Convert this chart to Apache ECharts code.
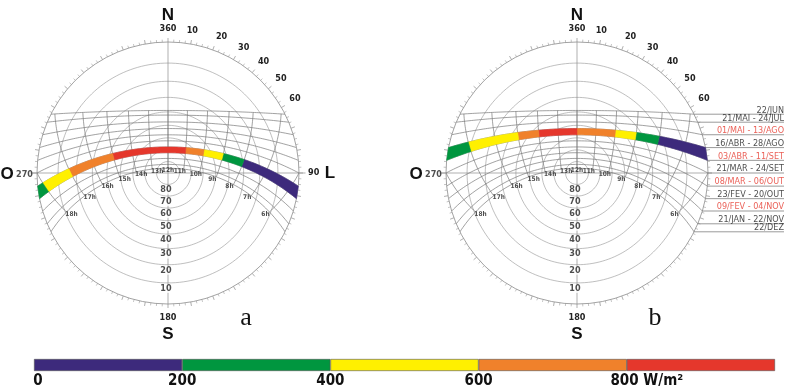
<!DOCTYPE html>
<html lang="pt">
<head>
<meta charset="UTF-8">
<title>Carta solar</title>
<script src="https://cdn.jsdelivr.net/npm/echarts@6/dist/echarts.min.js"></script>
<style>
    html, body { margin: 0; padding: 0; background: #fff; }
    #main { width: 785px; height: 389px; }
</style>
</head>
<body>
<div id="main"></div>
<script>
    // site latitude (southern Brazil)
    const latitude = -27.6;

    // date curves: declination, label, label in red
    const dateDecl = [23.44, 20.1, 15.0, 9.9, 4.9, 0, -5.1, -10.0, -14.9, -20.1, -23.44];
    const dateNames = ['22/JUN', '21/MAI - 24/JUL', '01/MAI - 13/AGO', '16/ABR - 28/AGO', '03/ABR - 11/SET',
        '21/MAR - 24/SET', '08/MAR - 06/OUT', '23/FEV - 20/OUT', '09/FEV - 04/NOV', '21/JAN - 22/NOV', '22/DEZ'];
    const dateRed = [false, false, true, false, true, false, true, false, true, false, false];

    const hourLines = [6, 7, 8, 9, 10, 11, 12, 13, 14, 15, 16, 17, 18];
    const altCircles = [10, 20, 30, 40, 50, 60, 70, 80];
    const azLabelsA = [0, 10, 20, 30, 40, 50, 60, 90, 180];
    const azLabelsB = [0, 10, 20, 30, 40, 50, 60, 180];

    // irradiance classes (W/m2)
    const irrBreaks = [0, 200, 400, 600, 800, 1000];
    const irrColors = ['#3d2a7c', '#00963f', '#fff000', '#f0812b', '#e5372c'];

    // band a: between 23/FEV and 08/MAR curves, hour limits and class of each stretch
    const bandADecl = [-10.0, -5.1];
    const bandAHours = [8, 9, 10, 11, 15, 17, 18];
    const bandAClass = [0, 1, 2, 3, 4, 3, 2, 1];
    // band b: between 03/ABR and 16/ABR curves
    const bandBDecl = [4.9, 9.9];
    const bandBHours = [8, 9, 10, 12, 14, 15, 17];
    const bandBClass = [0, 1, 2, 3, 4, 3, 2, 1];

    const FONT = "'Liberation Sans Narrow', 'DejaVu Sans Condensed', 'Liberation Sans', sans-serif";
    const centerA = [168, 173], centerB = [577, 173], R = 131;
    const labelRight = 784;
    const rad = Math.PI / 180;

    function sunPos(decl, hourAngle) {
        const f = latitude * rad, d = decl * rad, h = hourAngle * rad;
        const sinAlt = Math.sin(f) * Math.sin(d) + Math.cos(f) * Math.cos(d) * Math.cos(h);
        const alt = Math.asin(sinAlt);
        let c = (Math.sin(d) - sinAlt * Math.sin(f)) / (Math.cos(alt) * Math.cos(f));
        c = Math.max(-1, Math.min(1, c));
        let az = Math.acos(c) / rad;
        if (hourAngle > 0) az = 360 - az;
        return [alt / rad, az];
    }
    // stereographic: radius 1 = horizon
    function proj(alt, az) { return [Math.tan((90 - alt) / 2 * rad), az]; }
    function halfDay(decl) {
        const x = -Math.tan(latitude * rad) * Math.tan(decl * rad);
        return Math.acos(Math.max(-1, Math.min(1, x))) / rad;
    }
    function dayCurve(decl, h1, h2) {
        const H0 = halfDay(decl) / 15;
        const a = Math.max(h1, 12 - H0), b = Math.min(h2, 12 + H0);
        const n = Math.max(2, Math.ceil((b - a) * 12));
        const pts = [];
        for (let i = 0; i <= n; i++) {
            const h = a + (b - a) * i / n;
            const p = sunPos(decl, (h - 12) * 15);
            pts.push(proj(Math.max(p[0], 0), p[1]));
        }
        return pts;
    }
    function hourCurve(h) {
        const H = (h - 12) * 15, n = 96;
        const dMin = dateDecl[dateDecl.length - 1], dMax = dateDecl[0];
        const pts = [];
        let prevUp = null;
        for (let i = 0; i <= n; i++) {
            const d = dMin + (dMax - dMin) * i / n;
            const p = sunPos(d, H);
            const up = p[0] >= 0;
            if (prevUp !== null && prevUp !== up) {
                const d0 = Math.atan(-Math.cos(latitude * rad) * Math.cos(H * rad) / Math.sin(latitude * rad)) / rad;
                pts.push(proj(0, sunPos(d0, H)[1]));
            }
            if (up) pts.push(proj(p[0], p[1]));
            prevUp = up;
        }
        return pts;
    }

    function curve(pi, pts, color, width, z) {
        return {
            type: 'line', coordinateSystem: 'polar', polarIndex: pi, data: pts,
            symbol: 'none', silent: true, animation: false, clip: false, z: z,
            lineStyle: { color: color, width: width }
        };
    }

    function bandSeries(pi, decl, bounds, classes) {
        const edges = [0].concat(bounds, [24]);
        const segs = classes.map((c, i) => [edges[i], edges[i + 1], c]);
        return {
            type: 'custom', coordinateSystem: 'polar', polarIndex: pi, z: 6, silent: true, animation: false,
            data: segs.map(() => [0, 0]),
            renderItem: function (params, api) {
                const s = segs[params.dataIndex];
                const lo = dayCurve(decl[0], s[0], s[1]).map(p => api.coord(p));
                const hi = dayCurve(decl[1], s[0], s[1]).map(p => api.coord(p)).reverse();
                const col = irrColors[s[2]];
                return { type: 'polygon', shape: { points: lo.concat(hi) }, style: { fill: col, stroke: col, lineWidth: 0.5 } };
            }
        };
    }

    function diagramSeries(pi) {
        const out = [];
        const greyLight = '#a3a3a3', greyDark = '#7a7a7a';
        // altitude circles
        altCircles.forEach(a => {
            const pts = [];
            for (let t = 0; t <= 360; t += 2) pts.push(proj(a, t));
            out.push(curve(pi, pts, greyLight, 0.7, 2));
        });
        // cardinal lines
        out.push(curve(pi, [[1, 0], [0, 0], [1, 180]], '#8c8c8c', 0.7, 2));
        out.push(curve(pi, [[1, 270], [0, 0], [1, 90]], '#8c8c8c', 0.7, 2));
        // date curves and hour curves
        dateDecl.forEach(d => out.push(curve(pi, dayCurve(d, 0, 24), greyDark, 0.7, 3)));
        hourLines.forEach(h => out.push(curve(pi, hourCurve(h), greyDark, 0.7, 3)));
        // altitude labels on the south meridian
        out.push({
            type: 'scatter', coordinateSystem: 'polar', polarIndex: pi, symbolSize: 0, silent: true, animation: false, clip: false, z: 8,
            data: altCircles.map(a => ({ value: proj(a, 180), name: String(a) })),
            label: {
                show: true, position: 'bottom', distance: 1, offset: [-2, 0], formatter: '{b}',
                fontSize: 9, fontWeight: 'bold', fontFamily: FONT, color: '#222',
                backgroundColor: '#fff', padding: [0, 1]
            }
        });
        // west label just outside the horizon
        out.push({
            type: 'scatter', coordinateSystem: 'polar', polarIndex: pi, symbolSize: 0, silent: true, animation: false, clip: false, z: 8,
            data: [{ value: [1, 270], name: '270' }],
            label: {
                show: true, position: 'left', distance: 4, offset: [0, 2], formatter: '{b}',
                fontSize: 9, fontWeight: 'bold', fontFamily: FONT, color: '#222'
            }
        });
        // hour labels at the 22/DEZ curve
        const dMin = dateDecl[dateDecl.length - 1];
        out.push({
            type: 'scatter', coordinateSystem: 'polar', polarIndex: pi, symbolSize: 0, silent: true, animation: false, clip: false, z: 8,
            data: hourLines.map(h => {
                const p = sunPos(dMin, (h - 12) * 15);
                return {
                    value: proj(p[0], p[1]), name: h + 'h',
                    label: { offset: [h > 12 ? 5 : (h < 12 ? -4 : 0), 2] }
                };
            }),
            label: {
                show: true, position: 'inside', formatter: '{b}',
                fontSize: 6.5, fontWeight: 'bold', fontFamily: FONT, color: '#222'
            }
        });
        return out;
    }

    // straight segments drawn outside the horizon (line series get cut at the rim)
    function segmentSeries(pi, segs, color) {
        return {
            type: 'custom', coordinateSystem: 'polar', polarIndex: pi, z: 3, silent: true, animation: false,
            data: segs.map(() => [0, 0]),
            renderItem: function (params, api) {
                const s = segs[params.dataIndex];
                const p1 = api.coord(s[0]), p2 = api.coord(s[1]);
                return {
                    type: 'line', shape: { x1: p1[0], y1: p1[1], x2: p2[0], y2: p2[1] },
                    style: { stroke: color, lineWidth: 0.7 }
                };
            }
        };
    }

    function angleAxisFor(pi, shown) {
        return {
            polarIndex: pi, type: 'value', min: 0, max: 360, interval: 10, startAngle: 90, clockwise: true,
            axisLine: { show: true, lineStyle: { color: '#8c8c8c', width: 0.8 } },
            axisTick: { show: true, inside: false, length: 4, lineStyle: { color: '#8c8c8c', width: 0.7 } },
            minorTick: { show: true, splitNumber: 4, length: 2.5, lineStyle: { color: '#9a9a9a', width: 0.6 } },
            splitLine: { show: false },
            axisLabel: {
                margin: 9, fontSize: 9, fontWeight: 'bold', fontFamily: FONT, color: '#222',
                formatter: v => shown.indexOf(v) >= 0 ? (v === 0 ? '360' : String(v)) : ''
            }
        };
    }
    function radiusAxisFor(pi) {
        return {
            polarIndex: pi, type: 'value', min: 0, max: 1,
            axisLine: { show: false }, axisTick: { show: false }, axisLabel: { show: false }, splitLine: { show: false }
        };
    }

    let series = [];
    series = series.concat(diagramSeries(0), diagramSeries(1));
    series.push(bandSeries(0, bandADecl, bandAHours, bandAClass));
    series.push(bandSeries(1, bandBDecl, bandBHours, bandBClass));

    // east-west line running a little past the rim
    series.push(segmentSeries(0, [[[1, 270], [1.05, 270]], [[1, 90], [1.05, 90]]], '#8c8c8c'));
    series.push(segmentSeries(1, [[[1, 270], [1.05, 270]]], '#8c8c8c'));

    // leader lines and date labels for diagram b
    const reach = (labelRight - centerB[0]) / R;
    const leaders = [];
    const leaderEnds = [];
    dateDecl.forEach((d, i) => {
        const az = sunPos(d, -halfDay(d))[1];
        const y = Math.cos(az * rad);
        const end = [Math.hypot(reach, y), Math.atan2(reach, y) / rad];
        leaders.push([[1, az], end]);
        leaderEnds.push({
            value: end, name: dateNames[i],
            label: { color: dateRed[i] ? '#e5372c' : '#1a1a1a' }
        });
    });
    series.push(segmentSeries(1, leaders, '#6e6e6e'));
    series.push({
        type: 'scatter', coordinateSystem: 'polar', polarIndex: 1, symbolSize: 0, silent: true, animation: false, clip: false, z: 8,
        data: leaderEnds,
        label: { show: true, position: 'left', distance: 0, offset: [0, -4], formatter: '{b}', fontSize: 9, fontFamily: FONT }
    });

    // colour scale
    irrColors.forEach((c, i) => {
        series.push({
            type: 'bar', stack: 'irr', xAxisIndex: 0, yAxisIndex: 0, barWidth: '100%', silent: true, animation: false,
            data: [irrBreaks[i + 1] - irrBreaks[i]],
            itemStyle: { color: c, borderColor: '#555', borderWidth: 0.6 }
        });
    });

    const big = 'bold 17px "Liberation Sans", Arial, sans-serif';
    const serif = '26px "Liberation Serif", "DejaVu Serif", serif';
    function letter(text, x, y, font) {
        return { type: 'text', x: x, y: y, style: { text: text, font: font, align: 'center', verticalAlign: 'middle', fill: '#111' } };
    }

    const chart = echarts.init(document.getElementById('main'));
    const option = {
        backgroundColor: '#fff',
        animation: false,
        textStyle: { fontFamily: FONT },
        polar: [
            { center: centerA, radius: R },
            { center: centerB, radius: R }
        ],
        angleAxis: [angleAxisFor(0, azLabelsA), angleAxisFor(1, azLabelsB)],
        radiusAxis: [radiusAxisFor(0), radiusAxisFor(1)],
        grid: { left: 34, right: 10, top: 359, height: 13 },
        xAxis: {
            type: 'value', min: 0, max: 1000, interval: 200,
            axisLine: { show: false }, axisTick: { show: false }, splitLine: { show: false },
            axisLabel: {
                margin: 3, fontSize: 15, fontWeight: 'bold', color: '#111', fontFamily: FONT,
                formatter: v => v === 800 ? '{g|}800 W/m²' : (v === 1000 ? '' : (v === 0 ? '{h|}0' : String(v))),
                rich: { g: { width: 40 }, h: { width: 8 } }
            }
        },
        yAxis: { type: 'category', data: ['W/m²'], show: false },
        graphic: [
            letter('N', centerA[0], 15, big),
            letter('S', centerA[0], 334, big),
            letter('O', 7, 174, big),
            letter('L', 330, 173, big),
            letter('a', 246, 318, serif),
            letter('N', centerB[0], 15, big),
            letter('S', centerB[0], 334, big),
            letter('O', 416, 174, big),
            letter('b', 655, 318, serif)
        ],
        series: series
    };
    chart.setOption(option);
</script>
</body>
</html>
